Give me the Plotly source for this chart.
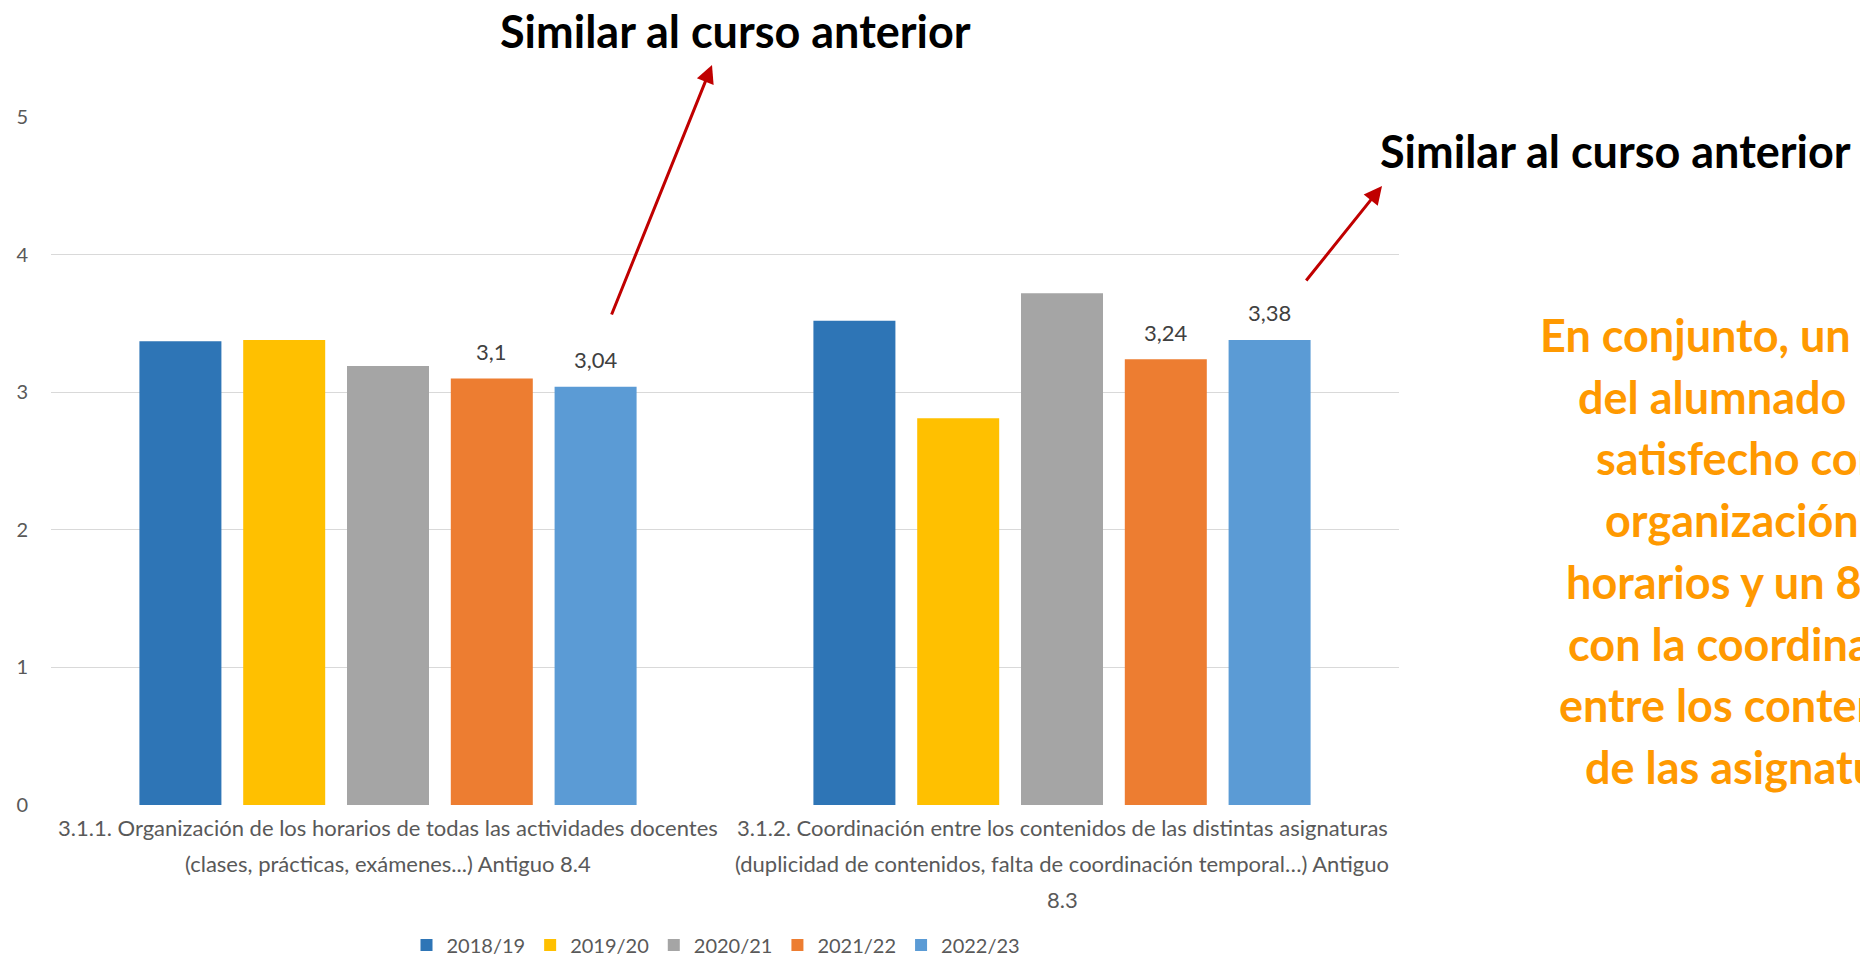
import plotly.graph_objects as go

# chart data
categories = [
    "3.1.1. Organización de los horarios de todas las actividades docentes\n(clases, prácticas, exámenes...) Antiguo 8.4",
    "3.1.2. Coordinación entre los contenidos de las distintas asignaturas\n(duplicidad de contenidos, falta de coordinación temporal…) Antiguo\n8.3",
]
series_names = ["2018/19", "2019/20", "2020/21", "2021/22", "2022/23"]
values_2018 = [3.37, 3.52]
values_2019 = [3.38, 2.81]
values_2020 = [3.19, 3.72]
values_2021 = [3.10, 3.24]
values_2022 = [3.04, 3.38]
labelled_series = ["2021/22", "2022/23"]
y_ticks = [0, 1, 2, 3, 4, 5]

callout_title = "Similar al curso anterior"
summary_lines = [
    "En conjunto, un",
    "del alumnado",
    "satisfecho con",
    "organización",
    "horarios y un 8",
    "con la coordinación",
    "entre los contenidos",
    "de las asignaturas",
]

colors = ["#2E75B6", "#FFC000", "#A5A5A5", "#ED7D31", "#5B9BD5"]
FONT = "Lato, 'Open Sans', sans-serif"
W, H = 1860, 959
L, R, T, B = 51, 461, 117, 154
BARGAP, GROUPGAP = 0.23, 0.21


def paper(px, py):
    """Pixel position in the page -> paper coordinates."""
    return (px - L) / (W - L - R), (H - B - py) / (H - T - B)


fig = go.Figure()
all_values = [values_2018, values_2019, values_2020, values_2021, values_2022]
for name, vals, color in zip(series_names, all_values, colors):
    fig.add_trace(
        go.Bar(
            name=name,
            x=categories,
            y=vals,
            marker={"color": color, "line": {"width": 0}},
            hoverinfo="skip",
        )
    )

annotations = []

# data labels for the last two courses, placed above their bars
cat_px = (W - L - R) / len(categories)
pitch = cat_px * (1 - BARGAP) / len(series_names)
for idx, (name, vals) in enumerate(zip(series_names, all_values)):
    if name not in labelled_series:
        continue
    for cat, v in zip(categories, vals):
        annotations.append(
            dict(
                x=cat, xref="x", y=v, yref="y",
                xshift=(idx - (len(series_names) - 1) / 2) * pitch,
                yshift=27, yanchor="middle",
                text=f"{v:g}".replace(".", ","), showarrow=False,
                font={"family": FONT, "size": 22, "color": "#404040"},
            )
        )

# category labels drawn line by line (Excel-like line spacing)
for cat in categories:
    for i, line in enumerate(cat.split("\n")):
        annotations.append(
            dict(
                x=cat, xref="x", y=0, yref="paper",
                yanchor="middle", yshift=-22 - i * 36,
                text=line, showarrow=False,
                font={"family": FONT, "size": 22, "color": "#595959"},
            )
        )

# callout titles with red arrows
tx, ty = paper(735, 31)
annotations.append(dict(x=tx, y=ty, xref="paper", yref="paper", text=f"<b>{callout_title}</b>",
                        showarrow=False, xanchor="center", yanchor="middle",
                        font={"family": FONT, "size": 45, "color": "#000000"}))
tx, ty = paper(1378, 151)
annotations.append(dict(x=tx, y=ty, xref="paper", yref="paper", text=f"<b>{callout_title}</b>",
                        showarrow=False, xanchor="left", yanchor="middle",
                        font={"family": FONT, "size": 45, "color": "#000000"}))
for head, tail in [((712, 65), (611, 316)), ((1382, 186), (1305, 282))]:
    hx, hy = paper(*head)
    annotations.append(dict(x=hx, y=hy, xref="paper", yref="paper", text="",
                            showarrow=True, arrowhead=2, arrowsize=1.2, arrowwidth=3,
                            arrowcolor="#C00000", ax=tail[0] - head[0], ay=tail[1] - head[1],
                            standoff=0, startstandoff=0))

# orange summary text on the right (clipped by the page edge, as in the original)
line_starts = [1538, 1576, 1594, 1603, 1564, 1566, 1557, 1583]
for i, (line, sx) in enumerate(zip(summary_lines, line_starts)):
    lx, ly = paper(sx, 335 + i * 61.7)
    annotations.append(dict(x=lx, y=ly, xref="paper", yref="paper", text=f"<b>{line}</b>",
                            showarrow=False, xanchor="left", yanchor="middle",
                            font={"family": FONT, "size": 45, "color": "#FF9900"}))

lx, ly = paper(716, 945)
fig.update_layout(
    width=W,
    height=H,
    margin={"l": L, "r": R, "t": T, "b": B, "autoexpand": False},
    paper_bgcolor="white",
    plot_bgcolor="white",
    barmode="group",
    bargap=BARGAP,
    bargroupgap=GROUPGAP,
    font={"family": FONT, "size": 20, "color": "#595959"},
    showlegend=True,
    legend={
        "orientation": "h",
        "x": lx,
        "y": ly,
        "xanchor": "center",
        "yanchor": "middle",
        "font": {"family": FONT, "size": 20, "color": "#595959"},
        "itemclick": False,
    },
    annotations=annotations,
    xaxis={"showticklabels": False, "showgrid": False, "showline": False, "zeroline": False},
    yaxis={
        "range": [0, 5],
        "tickvals": y_ticks,
        "showgrid": True,
        "gridcolor": "#D9D9D9",
        "gridwidth": 1,
        "zeroline": False,
        "showline": False,
        "ticklabelstandoff": 22,
        "tickfont": {"family": FONT, "size": 20, "color": "#595959"},
    },
)

fig.write_html(
    "out.html",
    config={"displayModeBar": False},
    post_script="document.body.style.margin = '0px';",
)
